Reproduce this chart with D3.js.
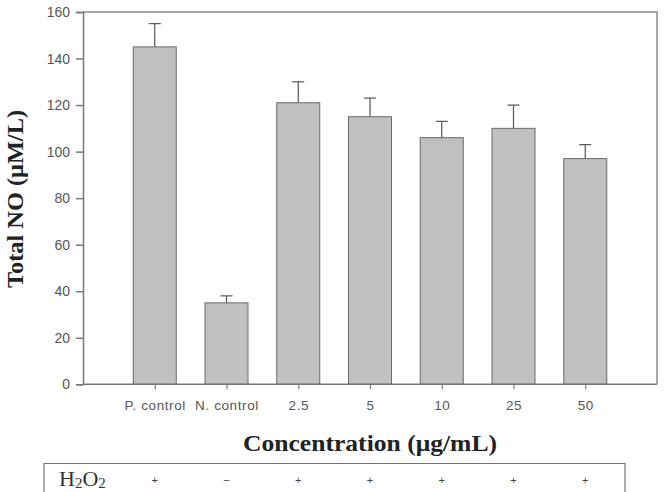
<!DOCTYPE html>
<html>
<head>
<meta charset="utf-8">
<script src="https://cdn.jsdelivr.net/npm/d3@7"></script>
<style>
  body { margin: 0; background: #fff; }
  svg { display: block; }
</style>
</head>
<body>
<svg width="668" height="492"></svg>
<script>
var groups = ['P. control', 'N. control', '2.5', '5', '10', '25', '50'];
var means = [145, 35, 121, 115, 106, 110, 97];
var errors = [10, 3, 9, 8, 7, 10, 6];
var h2o2 = ['+', '\u2212', '+', '+', '+', '+', '+'];
var yTicks = [0, 20, 40, 60, 80, 100, 120, 140, 160];

var svg = d3.select('svg');

var x0 = 83, x1 = 657, yTop = 12, yBot = 384.3;

var scaleX = d3.scalePoint().domain(groups).range([x0, x1]).padding(1);
var scaleY = d3.scaleLinear().domain([0, 160]).range([yBot, yTop]);
var barW = 43;

// frame top + right
svg.append('path')
    .attr('d', 'M' + x0 + ',' + yTop + 'H' + x1 + 'V' + yBot)
    .attr('fill', 'none')
    .attr('stroke', '#8a8a8a')
    .attr('stroke-width', 1.5);

// bars
svg.selectAll('rect.bar')
    .data(groups)
    .enter()
    .append('rect')
    .attr('class', 'bar')
    .attr('x', function(d){ return scaleX(d) - barW / 2; })
    .attr('y', function(d, i){ return scaleY(means[i]); })
    .attr('width', barW)
    .attr('height', function(d, i){ return scaleY(0) - scaleY(means[i]); })
    .attr('fill', '#c0c0c0')
    .attr('stroke', '#6a6a6a')
    .attr('stroke-width', 1);

// error bars (upper only)
var eb = svg.selectAll('g.err')
    .data(groups)
    .enter()
    .append('g')
    .attr('class', 'err')
    .attr('stroke', '#555')
    .attr('stroke-width', 1.2);
eb.append('line')
    .attr('x1', function(d){ return scaleX(d); })
    .attr('x2', function(d){ return scaleX(d); })
    .attr('y1', function(d, i){ return scaleY(means[i]); })
    .attr('y2', function(d, i){ return scaleY(means[i] + errors[i]); });
eb.append('line')
    .attr('x1', function(d){ return scaleX(d) - 6; })
    .attr('x2', function(d){ return scaleX(d) + 6; })
    .attr('y1', function(d, i){ return scaleY(means[i] + errors[i]); })
    .attr('y2', function(d, i){ return scaleY(means[i] + errors[i]); });

// y axis
var yAxis = svg.append('g')
    .attr('transform', 'translate(' + x0 + ',0)')
    .call(d3.axisLeft(scaleY).tickValues(yTicks).tickSize(7).tickPadding(6));
yAxis.selectAll('path, line').attr('stroke', '#777').attr('stroke-width', 1.5);
yAxis.selectAll('text')
    .attr('font-family', 'Liberation Sans, Arial, sans-serif')
    .attr('font-size', 14)
    .attr('fill', '#555');

// x axis
var xAxis = svg.append('g')
    .attr('transform', 'translate(0,' + yBot + ')')
    .call(d3.axisBottom(scaleX).tickSize(5).tickPadding(11));
xAxis.select('.domain')
    .attr('d', 'M' + x0 + ',0H' + x1)
    .attr('stroke', '#777').attr('stroke-width', 1.5);
xAxis.selectAll('line').attr('stroke', '#777').attr('stroke-width', 1.2);
xAxis.selectAll('text')
    .attr('font-family', 'Liberation Sans, Arial, sans-serif')
    .attr('font-size', 13.5)
    .attr('letter-spacing', 0.6)
    .attr('fill', '#555');

// axis titles
svg.append('text')
    .attr('x', 243)
    .attr('y', 451)
    .attr('font-family', 'Liberation Serif, Times New Roman, serif')
    .attr('font-weight', 'bold')
    .attr('font-size', 24)
    .attr('fill', '#222')
    .attr('textLength', 254)
    .attr('lengthAdjust', 'spacingAndGlyphs')
    .text('Concentration (\u03bcg/mL)');

svg.append('text')
    .attr('transform', 'translate(23,288) rotate(-90)')
    .attr('font-family', 'Liberation Serif, Times New Roman, serif')
    .attr('font-weight', 'bold')
    .attr('font-size', 24)
    .attr('fill', '#222')
    .attr('textLength', 178)
    .attr('lengthAdjust', 'spacingAndGlyphs')
    .text('Total NO (\u03bcM/L)');

// treatment table
svg.append('path')
    .attr('d', 'M44,500V463.5H625V500')
    .attr('fill', 'none')
    .attr('stroke', '#777')
    .attr('stroke-width', 1.2);

var h = svg.append('text')
    .attr('x', 59)
    .attr('y', 486)
    .attr('font-family', 'Liberation Serif, Times New Roman, serif')
    .attr('font-size', 22)
    .attr('fill', '#333');
h.append('tspan').text('H');
h.append('tspan').attr('font-size', 15).attr('dy', 2).text('2');
h.append('tspan').attr('dy', -2).text('O');
h.append('tspan').attr('font-size', 15).attr('dy', 2).text('2');

svg.selectAll('text.sign')
    .data(groups)
    .enter()
    .append('text')
    .attr('class', 'sign')
    .attr('x', function(d){ return scaleX(d); })
    .attr('y', 484)
    .attr('text-anchor', 'middle')
    .attr('font-family', 'Liberation Sans, Arial, sans-serif')
    .attr('font-size', 11)
    .attr('fill', '#444')
    .text(function(d, i){ return h2o2[i]; });
</script>
</body>
</html>
